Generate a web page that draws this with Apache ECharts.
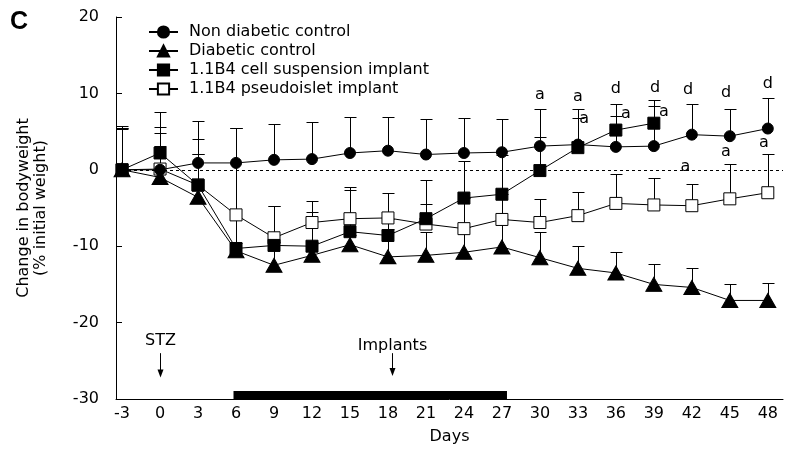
<!DOCTYPE html>
<html>
<head>
<meta charset="utf-8">
<script src="https://cdn.jsdelivr.net/npm/echarts@6/dist/echarts.min.js"></script>
<style>
  html, body { margin: 0; padding: 0; background: #fff; }
  #chart { width: 787px; height: 452px; }
</style>
</head>
<body>
<div id="chart"></div>
<script>
var days = [-3, 0, 3, 6, 9, 12, 15, 18, 21, 24, 27, 30, 33, 36, 39, 42, 45, 48];

// means and top of error bar (mean + SEM)
var nonDiabetic    = [0, 0, 0.9, 0.9, 1.3, 1.4, 2.2, 2.5, 2.0, 2.2, 2.3, 3.1, 3.3, 3.0, 3.1, 4.6, 4.4, 5.4];
var nonDiabeticTop = [5.5, 5.6, 6.4, 5.5, 6.0, 6.3, 6.9, 6.9, 6.7, 6.8, 6.7, 8.0, 8.0, 8.6, 9.2, 8.6, 8.0, 9.4];

var diabetic    = [0, -1.0, -3.6, -10.6, -12.5, -11.2, -9.8, -11.4, -11.2, -10.8, -10.1, -11.5, -12.9, -13.5, -15.0, -15.4, -17.1, -17.1];
var diabeticTop = [5.3, 3.1, 2.1, -9.6, -9.5, -9.5, -8.5, -7.8, -8.1, -7.5, -6.5, -8.2, -10.0, -10.7, -12.3, -12.8, -14.9, -14.8];

var cellSusp    = [0, 2.2, -2.0, -10.3, -9.9, -10.0, -8.1, -8.6, -6.4, -3.7, -3.2, -0.1, 2.9, 5.2, 6.1, null, null, null];
var cellSuspTop = [5.7, 7.6, 4.0, 5.5, -4.8, -5.5, -2.7, -6.5, -1.4, 1.2, 2.0, 4.3, 6.8, 7.1, 8.3, null, null, null];

var pseudoislet    = [0, 0.1, -2.0, -5.9, -8.9, -6.9, -6.4, -6.3, -7.1, -7.7, -6.5, -6.9, -6.0, -4.4, -4.6, -4.7, -3.8, -3.0];
var pseudoisletTop = [5.5, 4.8, 2.1, 5.5, -4.8, -4.1, -2.2, -3.0, -4.5, -3.7, -3.2, -3.8, -2.9, -0.5, -1.1, -1.8, 0.8, 2.1];

// significance letters: [day, value, letter]
var letters = [
  [30.0, 9.8, 'a'], [33.0, 9.6, 'a'], [33.5, 6.7, 'a'],
  [36.0, 10.6, 'd'], [36.8, 7.3, 'a'],
  [39.1, 10.7, 'd'], [39.8, 7.6, 'a'],
  [41.7, 10.5, 'd'], [41.5, 0.4, 'a'],
  [44.7, 10.1, 'd'], [44.7, 2.4, 'a'],
  [48.0, 11.3, 'd'], [47.7, 3.5, 'a']
];

// events: [day, arrow start, arrow end, label value, text]
var events = [
  [0, -24.0, -27.2, -22.4, 'STZ'],
  [18.3, -24.0, -27.0, -23.0, 'Implants']
];

// treatment period bar: [from day, to day, bottom, top]
var treatmentBar = [[5.8, 27.4, -30, -28.95]];

var FONT = 'DejaVu Sans';

function pairs(vals) {
  var out = [];
  for (var i = 0; i < days.length; i++) {
    if (vals[i] != null) out.push([days[i], vals[i]]);
  }
  return out;
}

function triples(vals, tops) {
  var out = [];
  for (var i = 0; i < days.length; i++) {
    if (vals[i] != null && tops[i] != null) out.push([days[i], vals[i], tops[i]]);
  }
  return out;
}

function crisp(v) { return Math.round(v) + 0.5; }

function errorBarItem(params, api) {
  var p0 = api.coord([api.value(0), api.value(1)]);
  var p1 = api.coord([api.value(0), api.value(2)]);
  var x = crisp(p0[0]), yTop = crisp(p1[1]);
  return {
    type: 'group',
    children: [
      { type: 'line', shape: { x1: x, y1: p0[1], x2: x, y2: yTop }, style: { stroke: '#000', lineWidth: 1 } },
      { type: 'line', shape: { x1: x - 6, y1: yTop, x2: x + 6, y2: yTop }, style: { stroke: '#000', lineWidth: 1 } }
    ]
  };
}

function errorSeries(vals, tops) {
  return {
    type: 'custom',
    renderItem: errorBarItem,
    data: triples(vals, tops),
    encode: { x: 0, y: [1, 2] },
    z: 1,
    silent: true
  };
}

function lineSeries(name, vals, symbol, size, fill) {
  return {
    name: name,
    type: 'line',
    data: pairs(vals),
    symbol: symbol,
    symbolSize: size,
    showAllSymbol: true,
    lineStyle: { color: '#000', width: 1 },
    itemStyle: { color: fill, borderColor: '#000', borderWidth: 1, opacity: 1 },
    z: 3,
    animation: false
  };
}

var chart = echarts.init(document.getElementById('chart'));

var option = {
  animation: false,
  backgroundColor: '#fff',
  textStyle: { fontFamily: FONT },
  graphic: [
    { type: 'text', left: 10, top: 10, style: { text: 'C', font: 'bold 25px "Liberation Sans"', fill: '#000' } }
  ],
  grid: { left: 116, right: 4, top: 17, bottom: 53 },
  legend: {
    orient: 'vertical',
    left: 148,
    top: 24,
    padding: 0,
    itemWidth: 29,
    itemHeight: 14,
    itemGap: 3,
    data: ['Non diabetic control', 'Diabetic control', '1.1B4 cell suspension implant', '1.1B4 pseudoislet implant'],
    textStyle: { fontFamily: FONT, fontSize: 16, color: '#000', padding: [0, 0, 0, 6] }
  },
  xAxis: {
    type: 'value',
    min: -3.48,
    max: 49.2,
    name: 'Days',
    nameLocation: 'middle',
    nameGap: 30,
    nameTextStyle: { fontFamily: FONT, fontSize: 16, color: '#000' },
    axisLine: { show: true, onZero: false, lineStyle: { color: '#000', width: 1 } },
    axisTick: { show: false },
    splitLine: { show: false },
    axisLabel: { customValues: days, fontFamily: FONT, fontSize: 16, color: '#000', margin: 7 }
  },
  yAxis: {
    type: 'value',
    min: -30,
    max: 20,
    interval: 10,
    name: 'Change in bodyweight\n(% initial weight)',
    nameLocation: 'middle',
    nameGap: 67,
    nameTextStyle: { fontFamily: FONT, fontSize: 16, color: '#000', lineHeight: 17 },
    axisLine: { show: true, onZero: false, lineStyle: { color: '#000', width: 1 } },
    axisTick: { show: true, inside: true, length: 6, lineStyle: { color: '#000' } },
    splitLine: { show: false },
    axisLabel: { fontFamily: FONT, fontSize: 16, color: '#000', margin: 17 }
  },
  series: [
    {
      type: 'custom',
      silent: true,
      z: 1,
      data: treatmentBar,
      encode: { x: [0, 1], y: [2, 3] },
      renderItem: function (params, api) {
        var a = api.coord([api.value(0), api.value(3)]);
        var b = api.coord([api.value(1), api.value(2)]);
        return { type: 'rect', shape: { x: a[0], y: a[1], width: b[0] - a[0], height: b[1] - a[1] }, style: { fill: '#000' } };
      }
    },
    {
      type: 'custom',
      silent: true,
      z: 1,
      data: events,
      encode: { x: 0, y: [1, 2, 3] },
      renderItem: function (params, api) {
        var s = api.coord([api.value(0), api.value(1)]);
        var e = api.coord([api.value(0), api.value(2)]);
        var t = api.coord([api.value(0), api.value(3)]);
        var x = crisp(s[0]);
        return {
          type: 'group',
          children: [
            { type: 'line', shape: { x1: x, y1: s[1], x2: x, y2: e[1] - 6 }, style: { stroke: '#000', lineWidth: 1 } },
            { type: 'polygon', shape: { points: [[x - 3, e[1] - 8], [x + 3, e[1] - 8], [x, e[1]]] }, style: { fill: '#000' } },
            { type: 'text', x: x, y: t[1], style: { text: events[params.dataIndex][4], font: '16px "DejaVu Sans"', fill: '#000', align: 'center', verticalAlign: 'middle' } }
          ]
        };
      }
    },
    {
      type: 'line',
      data: [],
      silent: true,
      markLine: {
        silent: true,
        symbol: 'none',
        label: { show: false },
        lineStyle: { color: '#000', width: 1, type: [3, 3] },
        data: [{ yAxis: 0 }]
      }
    },
    errorSeries(nonDiabetic, nonDiabeticTop),
    errorSeries(diabetic, diabeticTop),
    errorSeries(cellSusp, cellSuspTop),
    errorSeries(pseudoislet, pseudoisletTop),
    lineSeries('Diabetic control', diabetic, 'triangle', [16, 14], '#000'),
    lineSeries('1.1B4 pseudoislet implant', pseudoislet, 'rect', 12, '#fff'),
    lineSeries('1.1B4 cell suspension implant', cellSusp, 'rect', 12, '#000'),
    lineSeries('Non diabetic control', nonDiabetic, 'circle', 11, '#000'),
    {
      type: 'scatter',
      data: letters,
      symbolSize: 0,
      silent: true,
      z: 4,
      itemStyle: { opacity: 1, color: '#000' },
      label: {
        show: true,
        position: 'inside',
        formatter: function (p) { return p.value[2]; },
        fontFamily: FONT,
        fontSize: 16,
        color: '#000',
        textBorderWidth: 0,
        opacity: 1
      }
    }
  ]
};

chart.setOption(option);
</script>
</body>
</html>
